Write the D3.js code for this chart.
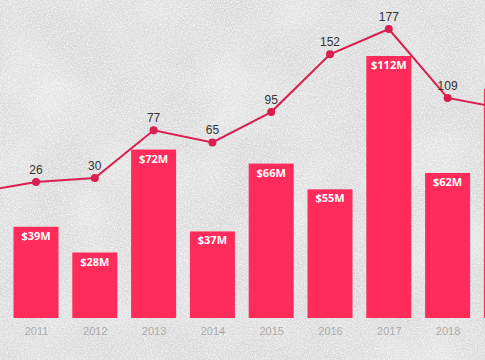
<!DOCTYPE html>
<html>
<head>
<meta charset="utf-8">
<script src="https://cdn.jsdelivr.net/npm/d3@7/dist/d3.min.js"></script>
<style>
  html, body { margin: 0; padding: 0; overflow: hidden; background: #dadada; }
  svg { display: block; }
</style>
</head>
<body>
<svg id="chart" width="485" height="360"></svg>
<script>
// Data (chart is cropped: 2010 and 2019 are partly off-canvas)
const years    = ["2010", "2011", "2012", "2013", "2014", "2015", "2016", "2017", "2018", "2019"];
const funding  = [null, 39, 28, 72, 37, 66, 55, 112, 62, 98];      // $M, bars
const deals    = [16, 26, 30, 77, 65, 95, 152, 177, 109, 98];      // line values

const W = 485, H = 360;
const svg = d3.select("#chart");

// textured concrete-like background
const defs = svg.append("defs");
const f = defs.append("filter").attr("id", "concrete")
  .attr("x", 0).attr("y", 0).attr("width", "100%").attr("height", "100%");
f.append("feTurbulence").attr("type", "fractalNoise")
  .attr("baseFrequency", 0.7).attr("numOctaves", 3).attr("seed", 7).attr("result", "n");
f.append("feColorMatrix").attr("in", "n").attr("type", "matrix")
  .attr("values", "0 0 0 0 1  0 0 0 0 1  0 0 0 0 1  1.8 0 0 0 -0.6");
const f3 = defs.append("filter").attr("id", "dark")
  .attr("x", 0).attr("y", 0).attr("width", "100%").attr("height", "100%");
f3.append("feTurbulence").attr("type", "fractalNoise")
  .attr("baseFrequency", 0.6).attr("numOctaves", 2).attr("seed", 19).attr("result", "n");
f3.append("feColorMatrix").attr("in", "n").attr("type", "matrix")
  .attr("values", "0 0 0 0 0.55  0 0 0 0 0.55  0 0 0 0 0.55  1.6 0 0 0 -0.75");
const f2 = defs.append("filter").attr("id", "blotch")
  .attr("x", 0).attr("y", 0).attr("width", "100%").attr("height", "100%");
f2.append("feTurbulence").attr("type", "fractalNoise")
  .attr("baseFrequency", 0.015).attr("numOctaves", 2).attr("seed", 3).attr("result", "n");
f2.append("feColorMatrix").attr("in", "n").attr("type", "matrix")
  .attr("values", "0 0 0 0 1  0 0 0 0 1  0 0 0 0 1  1.2 0 0 0 -0.45");

svg.append("rect").attr("width", W).attr("height", H).attr("fill", "#d9d9d9");
svg.append("rect").attr("width", W).attr("height", H).attr("filter", "url(#blotch)").attr("opacity", 0.6);
svg.append("rect").attr("width", W).attr("height", H).attr("filter", "url(#concrete)").attr("opacity", 0.8);
svg.append("rect").attr("width", W).attr("height", H).attr("filter", "url(#dark)").attr("opacity", 0.35);

// scales
const x = d3.scalePoint().domain(years).range([-22.8, 506.4]);
const barW = 45;
const yBar = d3.scaleLinear().domain([0, 112]).range([318, 56]);
const yLine = d3.scaleLinear().domain([0, 177]).range([208.3, 29]);
const inView = yr => x(yr) > 0 && x(yr) < W;

const barColor = "#ff2b5a";
const lineColor = "#d91f50";

// bars
const bd = years.map((y, i) => ({ year: y, v: funding[i] })).filter(d => d.v != null);
svg.append("g").selectAll("rect").data(bd).join("rect")
  .attr("x", d => x(d.year) - barW / 2)
  .attr("y", d => yBar(d.v))
  .attr("width", barW)
  .attr("height", d => yBar(0) - yBar(d.v))
  .attr("fill", barColor);

svg.append("g").selectAll("text").data(bd.filter(d => inView(d.year))).join("text")
  .attr("x", d => x(d.year))
  .attr("y", d => yBar(d.v) + 13)
  .attr("text-anchor", "middle")
  .attr("fill", "#ffffff")
  .attr("font-family", "'Open Sans', 'DejaVu Sans', sans-serif")
  .attr("font-weight", "bold")
  .attr("font-size", 11)
  .text(d => "$" + d.v + "M");

// x axis (year labels)
const ax = svg.append("g").attr("transform", "translate(0,318)")
  .call(d3.axisBottom(x).tickSize(0).tickPadding(9));
ax.select(".domain").remove();
ax.selectAll(".tick").filter(d => !inView(d)).remove();
ax.selectAll("text")
  .attr("fill", "#acacac")
  .attr("font-family", "'Liberation Sans', Arial, sans-serif")
  .attr("font-size", 11);

// line
const ld = years.map((y, i) => ({ year: y, v: deals[i] }));
svg.append("path").datum(ld)
  .attr("fill", "none")
  .attr("stroke", lineColor)
  .attr("stroke-width", 2)
  .attr("d", d3.line().x(d => x(d.year)).y(d => yLine(d.v)));

svg.append("g").selectAll("circle").data(ld).join("circle")
  .attr("cx", d => x(d.year))
  .attr("cy", d => yLine(d.v))
  .attr("r", 4)
  .attr("fill", lineColor);

svg.append("g").selectAll("text").data(ld.filter(d => inView(d.year))).join("text")
  .attr("x", d => x(d.year))
  .attr("y", d => yLine(d.v) - 8)
  .attr("text-anchor", "middle")
  .attr("fill", "#333333")
  .attr("font-family", "'Liberation Sans', Arial, sans-serif")
  .attr("font-size", 12)
  .text(d => d.v);
</script>
</body>
</html>
